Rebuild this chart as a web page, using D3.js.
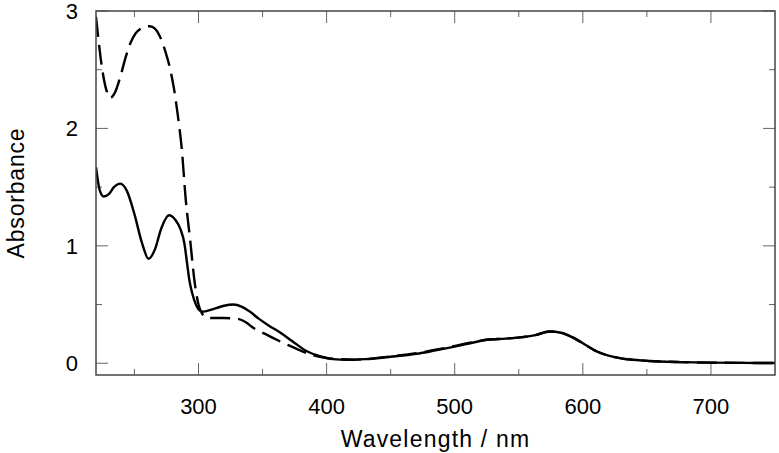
<!DOCTYPE html>
<html>
<head>
<meta charset="utf-8">
<script src="https://cdn.jsdelivr.net/npm/d3@7"></script>
<style>
  html, body { margin: 0; padding: 0; background: #fff; }
  svg { display: block; }
  text { font-family: "Liberation Sans", Arial, Helvetica, sans-serif; fill: #000; }
</style>
</head>
<body>
<svg id="chart" width="779" height="453"></svg>
<script>
// ---- data ----
const solidWavelength = [220, 223, 226, 230, 234, 239, 244, 250, 256, 261, 266, 271, 277, 282, 286, 289, 291, 293, 295, 298, 301, 304, 308, 314, 320, 327, 334, 340, 347, 355, 364, 373, 385, 395, 405, 416, 430, 450, 470, 485, 499, 512, 525, 540, 551, 563, 574, 583, 592, 600, 611, 620, 631, 645, 660, 676, 700, 725, 750];
const solidAbsorbance = [1.67, 1.47, 1.42, 1.44, 1.50, 1.53, 1.47, 1.27, 1.02, 0.89, 0.97, 1.15, 1.26, 1.22, 1.14, 1.02, 0.86, 0.70, 0.60, 0.50, 0.45, 0.44, 0.45, 0.47, 0.49, 0.50, 0.48, 0.44, 0.38, 0.32, 0.26, 0.19, 0.10, 0.06, 0.035, 0.03, 0.035, 0.055, 0.08, 0.11, 0.14, 0.17, 0.20, 0.21, 0.22, 0.24, 0.27, 0.26, 0.22, 0.17, 0.10, 0.065, 0.04, 0.025, 0.015, 0.01, 0.005, 0.003, 0.002];

const dashedWavelength = [220, 222, 224.5, 228, 231, 235, 239, 243, 247, 251, 255, 259, 262, 266, 270, 274, 278, 281, 284, 287, 290, 293.5, 297, 300, 303, 306, 310, 320, 330, 337, 343, 352, 361, 370, 377, 389, 400, 410, 420, 430, 450, 470, 485, 499, 512, 525, 540, 551, 563, 574, 583, 592, 600, 611, 620, 631, 645, 660, 676, 700, 725, 750];
const dashedAbsorbance = [2.95, 2.75, 2.53, 2.33, 2.26, 2.31, 2.44, 2.60, 2.73, 2.81, 2.85, 2.87, 2.87, 2.85, 2.78, 2.66, 2.50, 2.33, 2.10, 1.82, 1.40, 1.05, 0.69, 0.50, 0.42, 0.39, 0.385, 0.385, 0.38, 0.35, 0.30, 0.25, 0.20, 0.155, 0.12, 0.07, 0.045, 0.035, 0.03, 0.035, 0.058, 0.085, 0.115, 0.145, 0.175, 0.20, 0.21, 0.22, 0.24, 0.27, 0.26, 0.22, 0.17, 0.10, 0.065, 0.04, 0.025, 0.015, 0.01, 0.005, 0.003, 0.002];

const xMajorTicks = [300, 400, 500, 600, 700];
const xMinorTicks = [250, 350, 450, 550, 650];
const yMajorTicks = [0, 1, 2, 3];
const yMinorTicks = [0.5, 1.5, 2.5];
const xTitle = "Wavelength / nm";
const yTitle = "Absorbance";

// ---- layout ----
const svg = d3.select("#chart");
const mLeft = 96, mRight = 775, mTop = 11, mBottom = 375;
const x = d3.scaleLinear().domain([220, 750]).range([mLeft, mRight]);
const y = d3.scaleLinear().domain([-0.1, 3]).range([mBottom, mTop]);
const frameColor = "#444";

svg.append("defs").append("clipPath").attr("id", "clip")
  .append("rect").attr("x", mLeft).attr("y", mTop).attr("width", mRight - mLeft).attr("height", mBottom - mTop);

// ticks (inward, mirrored)
const tk = svg.append("g").attr("stroke", "#666").attr("stroke-width", 1);
function xt(vals, len) {
  vals.forEach(v => {
    tk.append("line").attr("x1", x(v)).attr("x2", x(v)).attr("y1", mBottom).attr("y2", mBottom - len);
    tk.append("line").attr("x1", x(v)).attr("x2", x(v)).attr("y1", mTop).attr("y2", mTop + len);
  });
}
function yt(vals, len) {
  vals.forEach(v => {
    tk.append("line").attr("y1", y(v)).attr("y2", y(v)).attr("x1", mLeft).attr("x2", mLeft + len);
    tk.append("line").attr("y1", y(v)).attr("y2", y(v)).attr("x1", mRight).attr("x2", mRight - len);
  });
}
xt(xMajorTicks, 12); xt(xMinorTicks, 6);
yt(yMajorTicks, 12); yt(yMinorTicks, 6);

// curves
const line = d3.line().curve(d3.curveMonotoneX).x(d => x(d[0])).y(d => y(d[1]));
const dashedData = dashedWavelength.map((w, i) => [w, dashedAbsorbance[i]]);
const solidData = solidWavelength.map((w, i) => [w, solidAbsorbance[i]]);
const g = svg.append("g").attr("clip-path", "url(#clip)");
g.append("path").datum(dashedData).attr("d", line)
  .attr("fill", "none").attr("stroke", "#000").attr("stroke-width", 2.4)
  .attr("stroke-dasharray", "20,8");
g.append("path").datum(solidData).attr("d", line)
  .attr("fill", "none").attr("stroke", "#000").attr("stroke-width", 2.4);

// frame
svg.append("rect").attr("x", mLeft).attr("y", mTop).attr("width", mRight - mLeft).attr("height", mBottom - mTop)
  .attr("fill", "none").attr("stroke", frameColor).attr("stroke-width", 1.5);

// tick labels
svg.append("g").selectAll("text").data(xMajorTicks).join("text")
  .attr("x", d => x(d)).attr("y", 414).attr("text-anchor", "middle")
  .attr("font-size", 22).text(d => d);
svg.append("g").selectAll("text").data(yMajorTicks).join("text")
  .attr("x", 78).attr("y", d => y(d) + 8).attr("text-anchor", "end")
  .attr("font-size", 22).text(d => d);

// titles
svg.append("text").attr("x", (mLeft + mRight) / 2).attr("y", 447).attr("text-anchor", "middle")
  .attr("font-size", 23).attr("letter-spacing", 1.2).text(xTitle);
svg.append("text").attr("transform", `translate(24, ${(mTop + mBottom) / 2}) rotate(-90)`)
  .attr("text-anchor", "middle").attr("font-size", 23).attr("letter-spacing", 0.8).text(yTitle);
</script>
</body>
</html>
